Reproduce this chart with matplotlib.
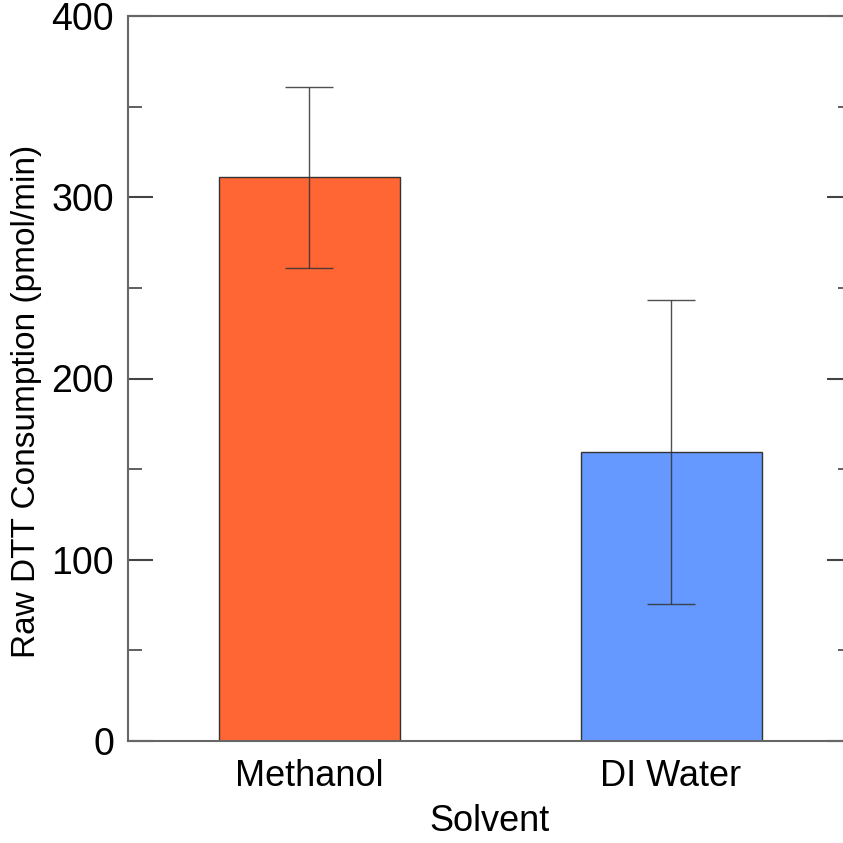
import matplotlib.pyplot as plt
from matplotlib.ticker import MultipleLocator

plt.rcParams['font.family'] = ['Liberation Sans', 'DejaVu Sans']

solvents = ["Methanol", "DI Water"]
consumption = [311, 159.5]
errors = [50, 84]
colors = ["#FF6633", "#6699FF"]

fig = plt.figure(figsize=(8.43, 8.43), dpi=100)
ax = fig.add_axes([128 / 843, 102 / 843, 724 / 843, 725 / 843])

x = range(len(solvents))
ax.bar(x, consumption, width=0.5, color=colors, edgecolor="#333333", linewidth=1.0, zorder=2)
ax.errorbar(x, consumption, yerr=errors, fmt="none", ecolor="#333333", elinewidth=1.0,
            capsize=17, capthick=1.0, zorder=3, alpha=0.85)

ax.set_xlim(-0.5, 1.5)
ax.set_ylim(0, 400)
ax.set_xticks(list(x))
ax.set_xticklabels(solvents)
ax.yaxis.set_major_locator(MultipleLocator(100))
ax.yaxis.set_minor_locator(MultipleLocator(50))

for s in ax.spines.values():
    s.set_color("#666666")
    s.set_linewidth(1.5)

ax.tick_params(axis="y", which="major", direction="in", length=18, width=1.5, color="#444444",
               right=True, labelsize=27, pad=10)
ax.tick_params(axis="y", which="minor", direction="in", length=10, width=1.2, color="#444444",
               right=True)
ax.tick_params(axis="x", which="both", length=0, labelsize=26, pad=13)

ax.set_ylabel("Raw DTT Consumption (pmol/min)", fontsize=24, labelpad=7)
ax.yaxis.label.set_y(0.468)
ax.set_xlabel("Solvent", fontsize=26, labelpad=7)

fig.savefig("out.png", dpi=100)
